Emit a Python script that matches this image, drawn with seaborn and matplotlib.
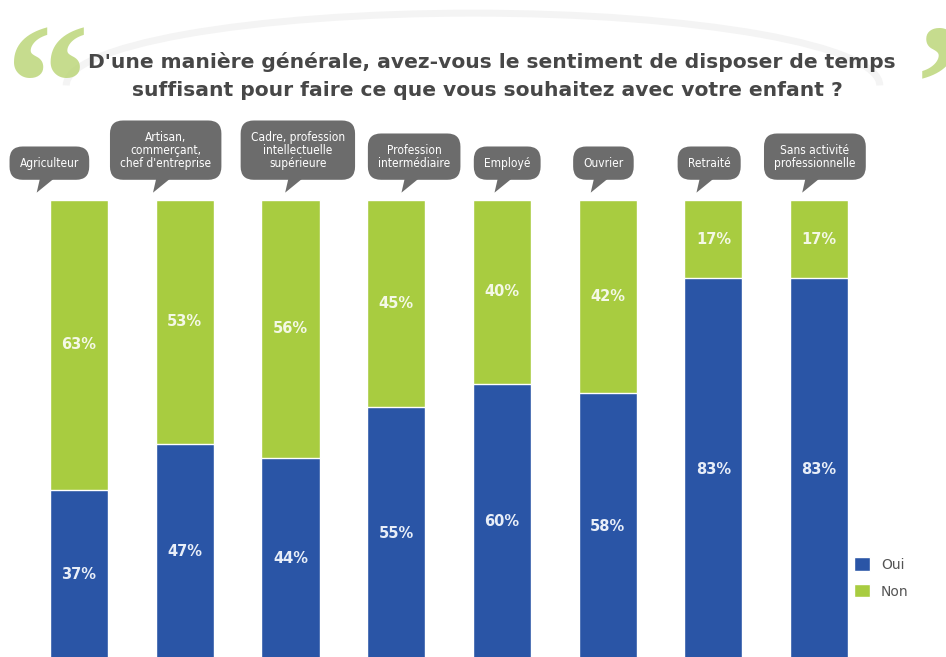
import matplotlib.pyplot as plt
import pandas as pd
import seaborn as sns
from matplotlib.patches import Patch, Arc

categories = ['Agriculteur', 'Artisan,\ncommerçant,\nchef d\'entreprise',
              'Cadre, profession\nintellectuelle\nsupérieure', 'Profession\nintermédiaire',
              'Employé', 'Ouvrier', 'Retraité', 'Sans activité\nprofessionnelle']
oui = [37, 47, 44, 55, 60, 58, 83, 83]
non = [63, 53, 56, 45, 40, 42, 17, 17]

blue = '#2a55a6'
green = '#a8cc40'
# horizontal nudge of each speech bubble relative to its bar
bubble_shift = [-0.28, -0.18, 0.07, 0.17, 0.05, -0.04, -0.04, -0.04]

df = pd.DataFrame({'cat': categories, 'oui': oui, 'non': non})
df['total'] = df['oui'] + df['non']

sns.set_style('white')
fig = plt.figure(figsize=(9.46, 6.57), dpi=100)
ax = fig.add_axes([0, 0, 1, 457 / 657])

sns.barplot(data=df, x='cat', y='total', color=green, width=0.55, saturation=1, ax=ax)
sns.barplot(data=df, x='cat', y='oui', color=blue, width=0.55, saturation=1, ax=ax)

ax.set_xlim(-0.747, 8.2)
ax.set_ylim(0.65, 100)
ax.axis('off')

for i, row in df.iterrows():
    ax.text(i, row['oui'] / 2, f"{row['oui']}%", ha='center', va='center',
            color='#e8eef8', fontsize=10.5, fontweight='bold')
    ax.text(i, row['oui'] + row['non'] / 2, f"{row['non']}%", ha='center', va='center',
            color='#f4f8e6', fontsize=10.5, fontweight='bold')
    # speech bubble
    bx = i + bubble_shift[i]
    ax.text(bx, 106.6, row['cat'], ha='center', va='bottom', color='white', fontsize=8.6,
            linespacing=1.0, fontstretch='condensed',
            bbox=dict(boxstyle='round,pad=0.85,rounding_size=1.1', fc='#6c6c6c', ec='none'),
            clip_on=False)
    ax.fill([bx - 0.09, bx + 0.04, bx - 0.12], [104.6, 104.6, 101.6], color='#6c6c6c',
            clip_on=False, lw=0)

# title
fig.text(0.52, 0.905, "D'une manière générale, avez-vous le sentiment de disposer de temps",
         ha='center', va='center', fontsize=14.6, fontweight='bold', color='#474747')
fig.text(0.515, 0.862, "suffisant pour faire ce que vous souhaitez avec votre enfant ?",
         ha='center', va='center', fontsize=14.6, fontweight='bold', color='#474747')

# decorative arc and quote marks
fig.patches.append(Arc((0.5, 0.87), 0.86, 0.22, theta1=0, theta2=180, transform=fig.transFigure,
                       color='#f4f4f4', lw=5, zorder=0))
fig.text(0.006, 0.965, '\u201c', fontsize=120, color='#bcd67a', ha='left', va='top',
         family='Liberation Serif', fontweight='bold', alpha=0.85)
fig.text(0.968, 0.965, '\u201d', fontsize=120, color='#bcd67a', ha='left', va='top',
         family='Liberation Serif', fontweight='bold', alpha=0.85)

handles = [Patch(facecolor=blue, label='Oui'), Patch(facecolor=green, label='Non')]
fig.legend(handles=handles, loc='lower left', bbox_to_anchor=(0.89, 0.07), frameon=False,
           fontsize=10, handlelength=1.1, handleheight=1.1, labelspacing=0.9,
           labelcolor='#555555', handletextpad=0.8)

fig.savefig('out.png', dpi=100)
